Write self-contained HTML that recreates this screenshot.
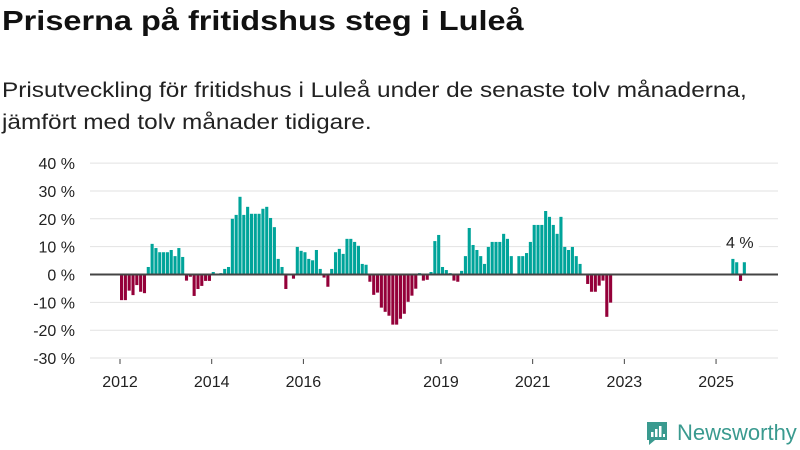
<!DOCTYPE html>
<html><head><meta charset="utf-8"><style>
body{margin:0;width:800px;height:450px;background:#fff;font-family:"Liberation Sans","DejaVu Sans",sans-serif;color:#111;overflow:hidden;position:relative}
h1{position:absolute;left:2px;top:5px;margin:0;font-size:28px;font-weight:bold;transform:scaleX(1.16);transform-origin:0 0;white-space:nowrap}
p{position:absolute;left:2px;top:75px;margin:0;font-size:21px;line-height:32px;color:#222;transform:scaleX(1.16);transform-origin:0 0;white-space:nowrap}
svg{position:absolute;left:0;top:0}
</style></head><body>
<h1>Priserna på fritidshus steg i Luleå</h1>
<p>Prisutveckling för fritidshus i Luleå under de senaste tolv månaderna,<br>jämfört med tolv månader tidigare.</p>
<svg id="chart" width="800" height="450"></svg>
<div style="position:absolute;left:645px;top:420px;display:flex;align-items:center;gap:8px;color:#3a9a8f;font-size:22px">
<svg width="24" height="26" style="position:static"><path d="M2 2h20v18H10l-6 5v-5H2z" fill="#3a9a8f"/><rect x="6" y="12" width="2.5" height="5" fill="#fff"/><rect x="10" y="9" width="2.5" height="8" fill="#fff"/><rect x="14" y="6" width="2.5" height="11" fill="#fff"/><rect x="18" y="14" width="2" height="3" fill="#fff"/></svg>
<span>Newsworthy</span></div>
<script>
const values=[-9.2,-9.2,-5.8,-7.4,-3.8,-6.2,-6.7,2.7,11,9.5,8,8,8,8.8,6.6,9.5,6.3,-2.2,-0.8,-7.7,-5.2,-4.1,-2.3,-2.3,0.9,0,0.5,2,2.7,20,21.4,27.9,21.4,24.3,21.8,21.8,21.8,23.6,24.3,20.3,17,5.6,2.7,-5.2,0,-1.5,9.9,8.5,8,5.6,
5.1,8.8,2,-1.1,-4.4,2,8,9.2,7.4,12.8,12.8,11.7,10.3,3.8,3.5,-2.6,-7.3,-6.5,-11.9,-13.4,-14.8,-18,-18,-15.9,-14.1,-9.8,-7.6,-5.1,0.5,-2.2,-1.9,0.9,12,14.2,2.7,1.6,0.5,-2.2,-2.6,1.3,6.6,16.7,10.6,8.8,6.6,
3.8,9.9,11.7,11.7,11.7,14.6,12.8,6.6,0,6.6,6.6,7.7,11.7,17.8,17.8,17.8,22.8,20.7,17.8,14.6,20.7,9.9,8.8,9.9,6.6,3.8,0,-3.4,-6.2,-6.2,-4,-2.2,-15.2,-10.1,
null,null,null,null,null,null,null,null,null,null,null,null,null,null,null,null,null,null,null,null,null,null,null,null,null,null,null,null,null,null,null,5.6,4.4,-2.3,4.4];
const startYear=2012;
const yTicks=[40,30,20,10,0,-10,-20,-30];
const xTicks=[2012,2014,2016,2019,2021,2023,2025];
const lastLabel="4 %";
const NS="http://www.w3.org/2000/svg";
const svg=document.getElementById('chart');
const y=v=>274.5-v*2.785;
const x=t=>120+(t-2012)*45.85;
function mk(tag,a){const e=document.createElementNS(NS,tag);for(const k in a)e.setAttribute(k,a[k]);svg.appendChild(e);return e;}
yTicks.forEach(v=>{
 const g=mk('line',{x1:90,x2:778,y1:y(v),y2:y(v),stroke:'#e2e2e2','stroke-width':1});
 
 
 const t=mk('text',{x:75,y:y(v)+6,'text-anchor':'end','font-size':16,fill:'#222'});
 t.textContent=v+' %';
 
 
});
xTicks.forEach(yr=>{
 const l=mk('line',{x1:x(yr),x2:x(yr),y1:359,y2:364,stroke:'#444'});
 
 
 const t=mk('text',{x:x(yr),y:387,'text-anchor':'middle','font-size':16,fill:'#222'});
 t.textContent=yr;
 
 
});
values.forEach((v,i)=>{
 if(v===null||v===0)return;
 const t=startYear+i/12;
 const r=mk('rect',{x:x(t),width:3.1,y:Math.min(y(v),y(0)),height:Math.abs(y(v)-y(0)),fill:v>0?'#00a49a':'#940039'});
 
 
});
const z=mk('line',{x1:90,x2:778,y1:y(0),y2:y(0),stroke:'#444','stroke-width':2});


const li=values.length-1;
const bg=mk('rect',{x:x(startYear+li/12)-22,y:232,width:38,height:18,fill:'#fff'});


const lab=mk('text',{x:x(startYear+li/12)-3,y:248,'text-anchor':'middle','font-size':16,fill:'#222'});
lab.textContent=lastLabel;


</script>
</body></html>
